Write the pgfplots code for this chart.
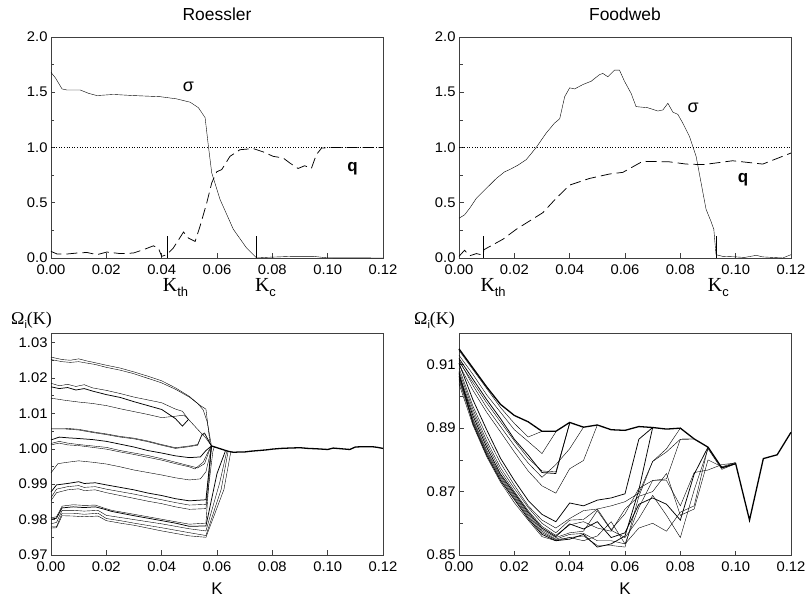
\documentclass[border=0pt]{standalone}
\usepackage{graphicx}
\usepackage{pgfplots}
\pgfplotsset{compat=1.18}
\usepackage{fontspec}
\setmainfont{Liberation Sans}
\newfontfamily\seriffont{Liberation Serif}
\newcommand{\fs}[1]{\fontsize{#1}{#1}\selectfont}
\newcommand{\wide}[1]{\scalebox{1.06}[1]{#1}}
\newcommand{\Klab}[1]{{\seriffont\fs{20}K}\raisebox{-5bp}{\fs{13}#1}}
\newcommand{\Omlab}{{\seriffont\fs{18}Ω}\raisebox{-3.5bp}{\fs{11}i}{\seriffont\fs{18}(K)}}
\pgfplotsset{
  panel/.style={
    scale only axis, width=332bp, anchor=south west, clip=false,
    axis line style={black!75, line width=0.6pt},
    tick style={black!75, line width=0.5pt},
    tick align=inside,
    major tick length=4.5bp, minor tick length=3.5bp,
    xtick pos=bottom, ytick pos=left,
    xmin=0, xmax=0.12, xtick={0,0.02,0.04,0.06,0.08,0.1,0.12},
    scaled ticks=false,
    tick label style={font=\fs{14}},
    /pgf/number format/assume math mode=true,
    xticklabel={\wide{\pgfmathprintnumber[fixed,fixed zerofill,precision=2]{\tick}}},
    xticklabel style={yshift=-3bp},
    cycle list={{black, solid, mark=none, line width=0.75pt}},
  },
  qline/.style={black, line width=0.75pt, dash pattern=on 11bp off 5bp},
  one/.style={black, line width=0.6pt, dash pattern=on 1bp off 1.6bp},
}
\begin{document}
\begin{tikzpicture}
\path[use as bounding box] (0,0) rectangle (806bp,597bp);
\node[font=\fs{17.5}, anchor=base] at (217bp,576.5bp) {Roessler};
\node[font=\fs{17.5}, anchor=base] at (625bp,576.5bp) {Foodweb};

% ---------------- Top left: Roessler sigma, q
\begin{axis}[panel, at={(51bp,339bp)}, height=221bp,
  ymin=0, ymax=2, ytick={0,0.5,1,1.5,2}, minor y tick num=1,
  yticklabel={\wide{\pgfmathprintnumber[fixed,fixed zerofill,precision=1]{\tick}}}]
\addplot[one] coordinates {(0,1) (0.12,1)};
\addplot coordinates {(0,1.68)(0.0016,1.63)(0.004,1.53)(0.0058,1.52)(0.0106,1.52)(0.0136,1.49)(0.0166,1.47)(0.0226,1.48)(0.0298,1.47)(0.0394,1.46)(0.0454,1.44)(0.0503,1.41)(0.0533,1.36)(0.0557,1.27)(0.0569,1.01)(0.0581,0.77)(0.0611,0.53)(0.0659,0.26)(0.0707,0.09)(0.0743,0)(0.0779,0.006)(0.0875,0.015)(0.0947,0.015)(0.0996,0.002)(0.12,0)};
\addplot[qline] coordinates {(0,0.06)(0.0022,0.036)(0.0058,0.036)(0.0094,0.045)(0.013,0.05)(0.0166,0.03)(0.0202,0.054)(0.025,0.04)(0.0298,0.045)(0.0334,0.075)(0.037,0.11)(0.0388,0.09)(0.04,0.015)(0.0418,0.03)(0.0442,0.09)(0.0479,0.235)(0.0497,0.18)(0.0521,0.15)(0.0539,0.29)(0.0563,0.5)(0.0581,0.68)(0.0599,0.78)(0.0617,0.8)(0.0647,0.92)(0.0683,0.98)(0.0731,0.99)(0.0767,0.96)(0.0803,0.92)(0.0839,0.905)(0.0863,0.86)(0.0893,0.81)(0.0917,0.835)(0.0941,0.81)(0.0959,0.935)(0.0978,0.995)(0.102,1.0)(0.12,1.0)};
\addplot coordinates {(0.0421,0) (0.0421,0.2)};
\addplot coordinates {(0.0743,0) (0.0743,0.2)};
\node[font=\fs{18}] at (axis cs:0.0497,1.55) {σ};
\node[font=\bfseries\fs{17}] at (axis cs:0.109,0.81) {q};
\node[anchor=base west, inner sep=0pt] at ([yshift=-33.7bp]axis cs:0.0404,0) {\Klab{th}};
\node[anchor=base west, inner sep=0pt] at ([yshift=-33.7bp]axis cs:0.0737,0) {\Klab{c}};
\end{axis}

% ---------------- Top right: Foodweb sigma, q
\begin{axis}[panel, at={(459bp,339bp)}, height=221bp,
  ymin=0, ymax=2, ytick={0,0.5,1,1.5,2}, minor y tick num=1,
  yticklabel={\wide{\pgfmathprintnumber[fixed,fixed zerofill,precision=1]{\tick}}}]
\addplot[one] coordinates {(0,1) (0.12,1)};
\addplot coordinates {(0,0.36)(0.002,0.39)(0.00385,0.45)(0.00626,0.54)(0.00987,0.63)(0.0135,0.72)(0.0165,0.78)(0.0183,0.8)(0.0213,0.84)(0.0243,0.89)(0.0279,1.0)(0.0315,1.13)(0.0345,1.22)(0.0364,1.26)(0.0382,1.46)(0.04,1.54)(0.0418,1.53)(0.0448,1.57)(0.0478,1.6)(0.0508,1.66)(0.052,1.67)(0.0538,1.64)(0.0562,1.70)(0.058,1.70)(0.0598,1.6)(0.0622,1.49)(0.064,1.37)(0.0682,1.36)(0.0719,1.33)(0.0737,1.34)(0.0755,1.40)(0.0773,1.32)(0.0791,1.30)(0.0809,1.22)(0.0833,1.10)(0.0857,0.92)(0.0875,0.68)(0.0893,0.44)(0.0911,0.33)(0.0921,0.26)(0.0929,0.03)(0.0953,0.015)(0.1001,0.01)(0.1032,0.005)(0.1074,0.024)(0.1098,0.01)(0.117,0.0)(0.12,0.03)};
\addplot[qline] coordinates {(0,0.015)(0.002,0.07)(0.00385,0.02)(0.0063,0.04)(0.0087,0.025)(0.009,0.075)(0.0159,0.17)(0.0207,0.26)(0.0303,0.41)(0.0351,0.54)(0.04,0.66)(0.0472,0.72)(0.0544,0.76)(0.0592,0.775)(0.0664,0.875)(0.0761,0.87)(0.0821,0.85)(0.0881,0.845)(0.0929,0.86)(0.0989,0.88)(0.1098,0.85)(0.12,0.95)};
\addplot coordinates {(0.0087,0) (0.0087,0.2)};
\addplot coordinates {(0.0929,0) (0.0929,0.2)};
\node[font=\fs{18}] at (axis cs:0.0846,1.357) {σ};
\node[font=\bfseries\fs{17}] at (axis cs:0.1027,0.705) {q};
\node[anchor=base west, inner sep=0pt] at ([yshift=-33.7bp]axis cs:0.0077,0) {\Klab{th}};
\node[anchor=base west, inner sep=0pt] at ([yshift=-33.7bp]axis cs:0.0899,0) {\Klab{c}};
\end{axis}

% ---------------- Bottom left: Roessler Omega
\begin{axis}[panel, at={(51bp,42bp)}, height=222bp,
  ymin=0.97, ymax=1.0327, ytick={0.97,0.98,0.99,1.0,1.01,1.02,1.03},
  minor ytick={0.975,0.985,0.995,1.005,1.015,1.025},
  yticklabel={\wide{\pgfmathprintnumber[fixed,fixed zerofill,precision=2]{\tick}}}]
\addplot coordinates {(0,1.0259)(0.004,1.0252)(0.007,1.0250)(0.01,1.0254)(0.013,1.0248)(0.016,1.0243)(0.02,1.0236)(0.025,1.0228)(0.03,1.0217)(0.035,1.0205)(0.04,1.0192)(0.045,1.0172)(0.05,1.0148)(0.053,1.0128)(0.055,1.011)(0.0565,1.0075)(0.058,1.0008)};
\addplot coordinates {(0,1.0252)(0.004,1.0246)(0.007,1.0244)(0.01,1.0246)(0.013,1.0242)(0.016,1.0238)(0.02,1.023)(0.025,1.0222)(0.03,1.0212)(0.035,1.0199)(0.04,1.0186)(0.045,1.0168)(0.05,1.0146)(0.054,1.0122)(0.056,1.0112)(0.0575,1.0015)(0.058,1.0008)};
\addplot coordinates {(0,1.0185)(0.003,1.0178)(0.006,1.0182)(0.009,1.0176)(0.012,1.0181)(0.015,1.0172)(0.02,1.0165)(0.025,1.0156)(0.03,1.0146)(0.035,1.0138)(0.04,1.013)(0.045,1.0112)(0.0475,1.0106)(0.0497,1.0083)(0.053,1.0055)(0.056,1.003)(0.058,1.0008)};
\addplot coordinates {(0,1.0175)(0.003,1.0170)(0.006,1.0173)(0.009,1.0166)(0.012,1.0170)(0.015,1.0163)(0.02,1.0153)(0.025,1.0145)(0.03,1.0133)(0.035,1.0122)(0.04,1.0111)(0.045,1.0085)(0.0475,1.0064)(0.0497,1.0083)};
\addplot coordinates {(0,1.0143)(0.005,1.0137)(0.01,1.0132)(0.015,1.0128)(0.02,1.0122)(0.025,1.0113)(0.03,1.0105)(0.035,1.0097)(0.04,1.0088)(0.045,1.0092)(0.048,1.0095)(0.0497,1.0083)};
\addplot coordinates {(0,1.0058)(0.005,1.0058)(0.01,1.0055)(0.015,1.0048)(0.02,1.0042)(0.025,1.0035)(0.03,1.003)(0.035,1.0022)(0.04,1.0012)(0.045,1.0003)(0.05,1.0008)(0.053,1.0012)(0.0545,1.004)(0.0555,1.0045)(0.058,1.0008)};
\addplot coordinates {(0,1.0056)(0.005,1.0056)(0.01,1.0053)(0.015,1.0046)(0.02,1.004)(0.025,1.0033)(0.03,1.0028)(0.035,1.002)(0.04,1.001)(0.045,1.0001)(0.05,1.0006)(0.053,1.001)(0.0545,1.0038)(0.0555,1.0043)(0.058,1.0008)};
\addplot coordinates {(0,1.0025)(0.003,1.0033)(0.006,1.0031)(0.01,1.0029)(0.015,1.0026)(0.02,1.0021)(0.025,1.0013)(0.03,1.0005)(0.035,0.9995)(0.04,0.9988)(0.045,0.998)(0.05,0.9975)(0.054,0.9977)(0.056,0.9995)(0.058,1.0008)};
\addplot coordinates {(0,1.0015)(0.003,1.0021)(0.006,1.0016)(0.01,1.0012)(0.015,1.0008)(0.02,1.0004)(0.025,0.9995)(0.03,0.9988)(0.035,0.9981)(0.04,0.9972)(0.045,0.9962)(0.05,0.9952)(0.053,0.9946)(0.0555,0.9958)(0.057,0.999)(0.058,1.0008)};
\addplot coordinates {(0,1.0011)(0.003,1.0016)(0.006,1.0011)(0.01,1.0009)(0.015,1.0004)(0.02,0.9999)(0.025,0.9991)(0.03,0.9984)(0.035,0.9976)(0.04,0.9968)(0.045,0.9958)(0.05,0.9949)(0.052,0.9943)(0.055,0.9962)(0.057,0.9995)(0.058,1.0008)};
\addplot coordinates {(0,0.9932)(0.0025,0.9958)(0.006,0.9962)(0.01,0.9966)(0.015,0.9962)(0.02,0.9957)(0.025,0.9949)(0.03,0.994)(0.035,0.9933)(0.04,0.9926)(0.045,0.9918)(0.05,0.9912)(0.054,0.9915)(0.056,0.9935)(0.0575,0.9985)(0.058,1.0008)};
\addplot coordinates {(0,0.9878)(0.002,0.9898)(0.006,0.9902)(0.01,0.9907)(0.012,0.9902)(0.016,0.9904)(0.02,0.9898)(0.025,0.9891)(0.03,0.9884)(0.035,0.9875)(0.04,0.9868)(0.045,0.9859)(0.05,0.9853)(0.056,0.9856)(0.058,1.0008)};
\addplot coordinates {(0,0.9862)(0.002,0.9886)(0.006,0.9893)(0.01,0.9896)(0.012,0.9891)(0.016,0.9893)(0.02,0.9886)(0.025,0.9879)(0.03,0.9872)(0.035,0.9864)(0.04,0.9856)(0.045,0.9848)(0.05,0.9841)(0.056,0.9843)(0.058,1.0008)};
\addplot coordinates {(0,0.9854)(0.002,0.9876)(0.006,0.9884)(0.01,0.9887)(0.012,0.9882)(0.016,0.9884)(0.02,0.9876)(0.025,0.9868)(0.03,0.986)(0.035,0.9852)(0.04,0.9845)(0.045,0.9836)(0.05,0.9829)(0.056,0.9831)(0.0585,0.9992)(0.059,1.0005)};
\addplot coordinates {(0,0.9805)(0.002,0.9808)(0.004,0.9838)(0.008,0.9842)(0.012,0.984)(0.016,0.9841)(0.019,0.9833)(0.022,0.9826)(0.03,0.9815)(0.04,0.9801)(0.045,0.9794)(0.05,0.9787)(0.056,0.979)(0.058,1.0008)};
\addplot coordinates {(0,0.9801)(0.002,0.9804)(0.004,0.9833)(0.008,0.9836)(0.012,0.9834)(0.016,0.9836)(0.019,0.983)(0.022,0.9823)(0.03,0.9811)(0.04,0.9797)(0.045,0.979)(0.05,0.9781)(0.056,0.9782)(0.060,0.993)(0.063,0.9993)};
\addplot coordinates {(0,0.9788)(0.002,0.9792)(0.004,0.9826)(0.008,0.9826)(0.012,0.9824)(0.017,0.9826)(0.02,0.9812)(0.025,0.9806)(0.03,0.98)(0.04,0.9788)(0.045,0.9781)(0.05,0.9774)(0.056,0.9768)(0.061,0.9905)(0.0635,0.9992)};
\addplot coordinates {(0,0.9779)(0.002,0.978)(0.004,0.9818)(0.008,0.9818)(0.012,0.9815)(0.017,0.9818)(0.02,0.9803)(0.025,0.9797)(0.03,0.979)(0.04,0.9777)(0.045,0.977)(0.05,0.9763)(0.056,0.9755)(0.0615,0.9885)(0.064,0.9992)};
\addplot coordinates {(0,0.9776)(0.002,0.9777)(0.004,0.9811)(0.008,0.981)(0.012,0.9808)(0.017,0.981)(0.02,0.9797)(0.025,0.979)(0.03,0.9784)(0.04,0.9768)(0.045,0.9761)(0.05,0.9754)(0.056,0.975)(0.0625,0.9885)(0.065,0.9992)};
\addplot[black, line width=1.3pt] coordinates {(0.058,1.0008)(0.06,1.0003)(0.062,0.9998)(0.064,0.9993)(0.066,0.999)(0.068,0.9991)(0.07,0.9991)(0.072,0.9993)(0.075,0.9995)(0.078,0.9997)(0.08,0.9999)(0.083,1.0001)(0.086,1.0002)(0.09,1.0003)(0.093,1.0001)(0.096,1.0)(0.1,0.9998)(0.102,1.0002)(0.105,1.0)(0.108,0.9998)(0.11,1.0005)(0.113,1.0006)(0.116,1.0006)(0.118,1.0004)(0.12,1.0001)};
\end{axis}

% ---------------- Bottom right: Foodweb Omega
\begin{axis}[panel, at={(459bp,42bp)}, height=222bp,
  ymin=0.85, ymax=0.92, ytick={0.85,0.87,0.89,0.91},
  minor ytick={0.86,0.88,0.90},
  yticklabel={\wide{\pgfmathprintnumber[fixed,fixed zerofill,precision=2]{\tick}}}]
\addplot[black, line width=1.3pt] coordinates {(0,0.915)(0.005,0.909)(0.01,0.903)(0.015,0.8975)(0.02,0.894)(0.025,0.892)(0.03,0.889)(0.035,0.889)(0.04,0.8918)(0.045,0.8903)(0.05,0.891)(0.055,0.8895)(0.06,0.8893)(0.065,0.8905)(0.07,0.8902)(0.075,0.8897)(0.08,0.8900)(0.085,0.8866)(0.09,0.884)(0.095,0.8775)(0.1,0.8788)(0.105,0.861)(0.11,0.8804)(0.115,0.8816)(0.12,0.8887)};
\addplot coordinates {(0,0.9145)(0.005,0.9085)(0.01,0.9025)(0.015,0.8965)(0.02,0.8915)(0.025,0.8872)(0.03,0.889)};
\addplot coordinates {(0,0.913)(0.005,0.907)(0.01,0.9005)(0.015,0.895)(0.02,0.8895)(0.025,0.8858)(0.03,0.882)(0.035,0.8888)};
\addplot coordinates {(0,0.912)(0.005,0.9055)(0.01,0.899)(0.015,0.893)(0.02,0.8865)(0.025,0.8815)(0.03,0.876)(0.035,0.8757)(0.04,0.8916)};
\addplot coordinates {(0,0.911)(0.005,0.9045)(0.01,0.898)(0.015,0.892)(0.02,0.886)(0.025,0.8805)(0.03,0.8765)(0.035,0.8762)(0.04,0.8916)};
\addplot coordinates {(0,0.9115)(0.005,0.9035)(0.01,0.8965)(0.015,0.8905)(0.02,0.8845)(0.025,0.879)(0.03,0.8745)(0.035,0.8785)(0.04,0.8835)(0.045,0.8903)};
\addplot coordinates {(0,0.910)(0.005,0.902)(0.01,0.895)(0.015,0.8888)(0.02,0.8825)(0.025,0.8765)(0.03,0.8718)(0.035,0.8695)(0.04,0.8772)(0.045,0.8798)(0.05,0.891)};
\addplot coordinates {(0,0.9105)(0.005,0.899)(0.01,0.8895)(0.015,0.8805)(0.02,0.8735)(0.025,0.8672)(0.03,0.8628)(0.035,0.8605)(0.04,0.8664)(0.045,0.8655)(0.05,0.8673)(0.055,0.868)(0.06,0.8693)(0.065,0.8865)(0.07,0.8902)};
\addplot coordinates {(0,0.909)(0.005,0.897)(0.01,0.8875)(0.015,0.879)(0.02,0.872)(0.025,0.8655)(0.03,0.861)(0.035,0.8585)(0.04,0.8615)(0.045,0.864)(0.05,0.8645)(0.055,0.8655)(0.06,0.8668)(0.065,0.8695)(0.07,0.8795)(0.075,0.8835)(0.08,0.8900)};
\addplot coordinates {(0,0.908)(0.005,0.896)(0.01,0.886)(0.015,0.8775)(0.02,0.871)(0.025,0.865)(0.03,0.860)(0.035,0.857)(0.04,0.861)(0.045,0.8612)(0.05,0.8645)(0.055,0.858)(0.06,0.863)(0.065,0.871)(0.07,0.8735)(0.075,0.8735)(0.08,0.8655)(0.085,0.876)(0.09,0.8768)(0.095,0.8785)(0.1,0.879)};
\addplot coordinates {(0,0.907)(0.005,0.895)(0.01,0.885)(0.015,0.8765)(0.02,0.870)(0.025,0.864)(0.03,0.859)(0.035,0.8562)(0.04,0.8595)(0.045,0.8605)(0.05,0.8585)(0.055,0.8575)(0.06,0.8645)(0.065,0.8685)(0.07,0.870)(0.075,0.8757)(0.08,0.8625)(0.085,0.8645)(0.09,0.8800)(0.095,0.8778)(0.1,0.8792)};
\addplot coordinates {(0,0.9065)(0.005,0.894)(0.01,0.884)(0.015,0.8755)(0.02,0.8695)(0.025,0.8635)(0.03,0.8585)(0.035,0.8558)(0.04,0.8598)(0.045,0.8582)(0.05,0.8605)(0.055,0.8555)(0.06,0.857)(0.065,0.866)(0.07,0.868)(0.075,0.866)(0.08,0.861)(0.085,0.8755)(0.09,0.884)};
\addplot coordinates {(0,0.906)(0.005,0.893)(0.01,0.883)(0.015,0.875)(0.02,0.869)(0.025,0.863)(0.03,0.858)(0.035,0.8555)(0.04,0.857)(0.045,0.8575)(0.05,0.864)(0.055,0.8578)(0.06,0.8555)(0.065,0.8615)(0.07,0.8688)(0.075,0.8625)(0.08,0.8555)(0.085,0.8705)(0.09,0.8835)(0.095,0.877)(0.1,0.8788)};
\addplot coordinates {(0,0.9055)(0.005,0.8925)(0.01,0.8825)(0.015,0.8745)(0.02,0.8685)(0.025,0.8625)(0.03,0.8575)(0.035,0.855)(0.04,0.8565)(0.045,0.8568)(0.05,0.8545)(0.055,0.8545)(0.06,0.8535)(0.065,0.8585)(0.07,0.860)(0.075,0.8575)(0.08,0.8635)(0.085,0.8655)(0.09,0.884)};
\addplot coordinates {(0,0.905)(0.005,0.892)(0.01,0.882)(0.015,0.874)(0.02,0.868)(0.025,0.862)(0.03,0.857)(0.035,0.8548)(0.04,0.8555)(0.045,0.856)(0.05,0.853)(0.055,0.853)(0.06,0.8525)(0.065,0.8685)(0.07,0.8795)(0.075,0.8825)(0.08,0.8865)(0.085,0.8866)};
\addplot coordinates {(0,0.9075)(0.005,0.8915)(0.01,0.8815)(0.015,0.8735)(0.02,0.8675)(0.025,0.8615)(0.03,0.8565)(0.035,0.8545)(0.04,0.855)(0.045,0.8565)(0.05,0.8525)(0.055,0.8535)(0.06,0.856)(0.065,0.8705)(0.07,0.8902)};
\addplot coordinates {(0,0.904)(0.005,0.891)(0.01,0.881)(0.015,0.873)(0.02,0.8665)(0.025,0.861)(0.03,0.8558)(0.035,0.8545)(0.04,0.8555)(0.045,0.8545)(0.05,0.856)(0.055,0.8605)(0.06,0.8535)(0.065,0.865)(0.07,0.8735)(0.075,0.874)(0.08,0.8865)(0.085,0.8866)};
\end{axis}

% axis labels
\node[anchor=base west, inner sep=0pt] at (11bp,272bp) {\Omlab};
\node[anchor=base west, inner sep=0pt] at (414bp,272bp) {\Omlab};
\node[anchor=base, inner sep=0pt, font=\fs{17}] at (217bp,3bp) {K};
\node[anchor=base, inner sep=0pt, font=\fs{17}] at (625bp,3bp) {K};
\end{tikzpicture}
\end{document}
